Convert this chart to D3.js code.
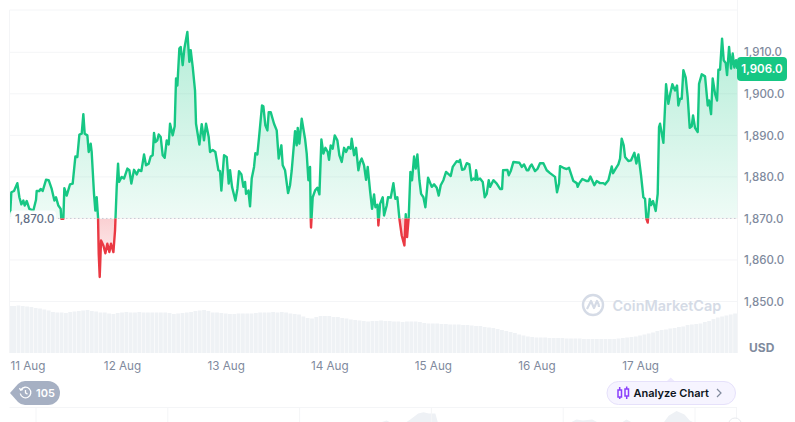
<!DOCTYPE html>
<html>
<head>
<meta charset="utf-8">
<script src="https://cdn.jsdelivr.net/npm/d3@7"></script>
<style>
    html, body { margin: 0; padding: 0; background: #fff; overflow: hidden; }
    text { font-family: Inter, 'Noto Sans', sans-serif; }
</style>
</head>
<body>
<script>
// data: hours after 11 Aug 00:00 and the price at that time
const hours = [
    -1.95,-1.64,-1.02,-0.25,0.22,0.68,1.14,1.45,1.92,2.53,
    3.46,4.08,4.23,4.85,5.16,5.62,6.39,7.01,7.71,8.33,
    8.71,9.25,9.79,9.94,10.41,10.64,11.18,11.95,12.57,13.19,
    13.65,14.12,14.66,15.04,15.35,15.97,16.28,16.74,16.97,17.51,
    17.82,18.13,18.44,18.6,18.83,19.14,19.68,20.14,20.6,21.07,
    21.45,22.0,22.38,22.77,23.08,23.31,23.92,24.46,25.24,25.7,
    26.16,26.78,27.4,27.86,28.48,29.1,29.56,30.18,30.64,31.1,
    31.41,31.72,32.18,32.49,32.96,33.42,33.88,34.35,34.81,35.12,
    35.74,36.2,36.51,36.82,37.28,37.59,38.05,38.44,39.13,39.6,
    39.91,40.37,40.91,41.14,41.92,42.46,42.99,43.46,44.08,44.39,
    45.0,45.62,46.32,46.7,47.01,47.63,48.25,48.71,49.02,49.48,
    50.26,50.72,51.1,51.65,52.11,52.5,52.73,53.27,53.65,54.04,
    54.58,54.89,55.35,55.82,56.43,56.74,57.2,57.67,57.98,58.44,
    59.21,59.83,60.29,60.91,61.22,61.76,62.46,62.92,63.31,64.08,
    64.46,64.7,65.08,65.62,66.39,66.78,67.17,67.55,67.71,67.78,
    68.17,68.71,69.25,69.72,70.18,70.64,71.11,71.65,71.95,72.34,
    72.8,73.27,73.88,74.35,74.89,75.43,75.89,76.43,76.97,77.2,
    77.75,78.21,78.75,79.14,79.52,80.06,80.53,80.91,81.45,81.92,
    82.38,82.69,83.15,83.38,83.77,84.39,84.7,85.31,85.62,86.24,
    86.86,87.32,87.78,88.25,88.79,89.41,89.72,90.03,90.41,90.8,
    91.18,91.65,92.03,92.42,92.88,93.27,93.81,94.27,94.89,95.74,
    96.28,96.9,97.36,97.82,98.44,99.06,100.14,100.6,101.53,101.99,
    102.3,102.77,103.31,103.85,104.46,104.93,105.39,105.85,106.01,106.4,
    106.93,107.55,108.02,108.48,108.94,109.25,110.02,110.8,111.57,112.03,
    112.26,113.27,113.58,114.04,114.66,116.05,116.59,117.13,117.75,118.13,
    118.52,118.89,119.67,120.28,120.82,121.6,122.37,123.14,124.3,124.76,
    125.23,125.46,126.23,127.0,127.54,128.55,129.32,129.55,129.94,130.63,
    131.64,132.02,132.49,133.41,133.95,134.72,135.5,135.88,136.66,137.43,
    137.74,138.35,138.97,139.36,139.74,140.21,140.52,141.29,141.91,142.68,
    143.14,143.61,144.22,144.76,145.15,145.46,145.77,146.23,146.54,147.0,
    147.62,148.08,148.39,148.62,149.4,150.02,150.55,151.02,151.48,152.1,
    152.56,152.87,153.26,153.64,154.03,154.57,155.03,155.5,155.96,156.27,
    156.73,157.35,157.66,158.28,159.05,159.67,159.98,160.44,160.82,161.37,
    161.83,162.14,162.52,162.99,163.37,163.84,164.15,164.61,165.07,165.46,
    165.84,166.23,166.54
]
const prices = [
    1870.3,1876.3,1876.6,1878.5,1875.1,1873.4,1874.3,1873.1,1874.2,1872.3,
    1871.9,1874.5,1876.6,1876.6,1877.1,1876.6,1879.3,1879.2,1877.1,1874.3,
    1875.1,1873.1,1872.3,1869.9,1869.9,1877.3,1875.5,1878.2,1878.4,1884.9,
    1884.8,1890.2,1890.4,1895.1,1890.4,1890.0,1886.0,1888.0,1886.0,1875.9,
    1871.9,1875.1,1870.3,1861.5,1855.9,1864.7,1863.5,1861.6,1863.9,1861.9,
    1863.9,1861.9,1867.1,1877.6,1883.2,1878.8,1880.0,1879.6,1882.0,1881.6,
    1878.4,1881.7,1880.6,1881.7,1881.4,1885.4,1882.8,1883.2,1884.9,1885.2,
    1890.6,1888.4,1888.8,1890.2,1889.6,1885.2,1884.6,1888.8,1887.8,1892.8,
    1890.0,1892.2,1903.7,1902.0,1910.9,1911.3,1906.9,1910.9,1914.9,1907.7,
    1910.5,1906.5,1900.8,1892.8,1887.8,1892.7,1888.8,1892.8,1889.6,1886.0,
    1886.5,1886.0,1881.6,1881.4,1876.7,1885.2,1884.8,1878.4,1881.6,1877.6,
    1874.3,1877.1,1881.4,1880.6,1877.6,1878.8,1875.9,1876.7,1872.9,1879.6,
    1882.4,1885.7,1885.4,1890.4,1897.2,1897.0,1892.4,1891.2,1895.6,1895.6,
    1892.8,1891.2,1884.4,1887.6,1882.8,1881.6,1876.1,1878.0,1881.6,1891.0,
    1887.6,1891.8,1888.0,1894.0,1889.2,1885.6,1879.2,1882.4,1870.0,1867.8,
    1875.1,1876.7,1877.4,1875.8,1889.0,1885.6,1887.0,1886.0,1884.1,1887.6,
    1886.8,1890.0,1888.8,1885.2,1883.6,1887.0,1886.0,1887.2,1886.8,1889.2,
    1885.2,1887.0,1881.6,1883.6,1884.4,1882.8,1879.3,1882.4,1876.7,1872.3,
    1875.8,1872.7,1873.3,1868.3,1873.5,1875.1,1870.7,1873.1,1875.1,1875.0,
    1878.5,1874.7,1875.1,1869.9,1865.9,1863.5,1871.0,1865.5,1870.3,1881.2,
    1879.2,1884.9,1882.0,1885.4,1879.2,1875.9,1875.1,1872.7,1879.8,1877.6,
    1878.2,1877.4,1875.5,1878.0,1879.2,1881.2,1880.2,1882.4,1883.8,1883.6,
    1884.1,1881.7,1881.9,1883.3,1883.0,1879.2,1879.6,1879.3,1881.6,1879.3,
    1879.6,1878.8,1875.1,1875.9,1879.2,1877.6,1879.2,1878.4,1877.1,1877.1,
    1881.6,1881.7,1880.4,1881.4,1883.6,1883.4,1882.4,1883.0,1881.6,1881.6,
    1882.5,1883.0,1881.4,1882.0,1883.3,1883.3,1881.6,1880.9,1880.0,1876.3,
    1878.4,1882.6,1882.2,1881.9,1882.2,1879.0,1878.5,1877.6,1878.5,1879.5,
    1879.0,1879.0,1880.1,1878.0,1879.0,1878.5,1878.5,1878.2,1879.2,1882.5,
    1880.9,1882.0,1883.0,1884.4,1889.2,1887.6,1884.8,1883.8,1884.0,1885.8,
    1883.2,1885.4,1880.4,1875.1,1874.7,1869.9,1869.0,1874.7,1873.2,1874.2,
    1871.8,1875.9,1892.0,1892.8,1888.2,1902.3,1897.6,1900.2,1902.3,1900.8,
    1902.0,1897.2,1898.8,1898.8,1905.7,1903.9,1899.2,1891.8,1892.2,1894.8,
    1891.8,1890.8,1902.4,1904.7,1904.2,1897.2,1898.4,1895.1,1903.7,1900.0,
    1898.4,1905.8,1905.8,1913.3,1908.1,1907.4,1904.5,1911.3,1906.1,1909.7,
    1906.3,1908.1,1906.0
]
// hourly volume, first bar is at hour -2, unit is arbitrary
const volumes = [
    94,94,95,94,93,92,90,89,87,85,82,81,81,80,82,83,84,85,86,84,83,81,81,79,78,
    80,81,82,81,81,82,81,81,81,81,81,81,80,78,79,80,81,82,84,85,86,84,81,81,80,
    79,78,78,79,79,79,79,80,81,81,81,82,81,82,81,79,78,77,73,70,69,72,74,74,74,
    72,72,70,69,67,66,65,64,63,64,64,65,64,64,63,63,62,63,63,63,62,60,59,59,59,
    58,58,57,57,57,56,56,55,54,54,52,51,50,48,46,44,42,40,37,35,33,32,31,31,31,
    30,30,30,30,29,29,29,29,28,28,28,28,28,28,28,28,29,30,31,32,33,35,37,39,41,
    44,46,47,49,50,52,53,56,57,58,59,62,64,68,71,73,75,77,79
]
const price_ticks = [1850,1860,1870,1880,1890,1900,1910]
const date_labels = ['11 Aug','12 Aug','13 Aug','14 Aug','15 Aug','16 Aug','17 Aug']
const base_price = 1870
const last_price = 1906
const unit_label = 'USD'
const badge_count = '105'
// overview strip under the chart, only its top edge is inside the window
const overview_ticks = [0,1,2,3,4,5]
const overview_pos = [0,2.6,2.66,2.7,2.8,2.84,2.9,2.94,2.98,3.03,3.05,4.05,4.1,4.15,4.22,4.27,4.44,4.48,4.53,4.76,4.8,4.86,4.92,4.96,5]
const overview_val = [0,0,2,0,0,3,8,9,8,8,0,0,3,2,3,0,0,3,0,0,6,10,7,2,0]

const start_ms = Date.UTC(2023,7,11)
const to_date = (h) => new Date(start_ms + h*3600000)

// scales
const plot = {left: 10, right: 737, top: 10, bottom: 353}
const x = d3.scaleUtc().domain([to_date(-1.95), to_date(166.45)]).range([plot.left, plot.right])
const y = d3.scaleLinear().domain([1850,1910]).range([301.5,52.3])
const y_vol = d3.scaleLinear().domain([0,100]).range([plot.bottom,303])
const x_over = d3.scaleLinear().domain([0,5]).range([36,695])
const y_over = d3.scaleLinear().domain([0,10]).range([423,411])
const points = hours.map((h,i) => ({t: to_date(h), p: prices[i]}))
const green = '#16c784'
const red = '#ea3943'
const grid_color = '#f4f5f7'

const svg = d3.select('body').append('svg')
    .attr('width', 795)
    .attr('height', 422)
    .style('display', 'block')
const defs = svg.append('defs')

function add_gradient(id, color, stops) {
    const g = defs.append('linearGradient')
        .attr('id', id)
        .attr('gradientUnits', 'userSpaceOnUse')
        .attr('x1', 0).attr('x2', 0)
        .attr('y1', stops[0]).attr('y2', stops[1])
    g.append('stop').attr('offset', 0).attr('stop-color', color).attr('stop-opacity', stops[2])
    g.append('stop').attr('offset', 1).attr('stop-color', color).attr('stop-opacity', stops[3])
}
add_gradient('grad_up', green, [y(1915), y(base_price), 0.32, 0.07])
add_gradient('grad_down', red, [y(base_price), y(1856), 0.24, 0.03])

defs.append('clipPath').attr('id', 'clip_up').append('rect')
    .attr('x', plot.left).attr('width', plot.right-plot.left+1)
    .attr('y', 0).attr('height', y(base_price))
defs.append('clipPath').attr('id', 'clip_down').append('rect')
    .attr('x', plot.left).attr('width', plot.right-plot.left+1)
    .attr('y', y(base_price)).attr('height', 200)

// grid and frame
svg.selectAll('.grid').data(price_ticks.filter(d => d != base_price)).enter().append('line')
    .attr('x1', plot.left).attr('x2', plot.right)
    .attr('y1', d => y(d)).attr('y2', d => y(d))
    .attr('stroke', grid_color)
const frame = [
    [plot.left-0.5, plot.top, plot.right, plot.top],
    [plot.left-0.5, plot.top, plot.left-0.5, plot.bottom],
    [plot.right+0.5, 0, plot.right+0.5, plot.bottom],
    [plot.left-0.5, 407.5, plot.right, 407.5],
    [plot.right-0.5, 407.5, plot.right-0.5, 422],
]
svg.selectAll('.frame').data(frame).enter().append('line')
    .attr('x1', d => d[0]).attr('y1', d => d[1])
    .attr('x2', d => d[2]).attr('y2', d => d[3])
    .attr('stroke', grid_color)

// volume
svg.selectAll('.vol').data(volumes).enter().append('rect')
    .attr('x', (_,i) => Math.max(plot.left, x(to_date(i-2)) - 1.9))
    .attr('width', 3.8)
    .attr('y', d => y_vol(d))
    .attr('height', d => y_vol(0) - y_vol(d))
    .attr('fill', '#eff2f5')

// overview strip
svg.append('path')
    .datum(overview_pos.map((p,i) => [p, overview_val[i]]))
    .attr('d', d3.area().x(d => x_over(d[0])).y0(y_over(0)).y1(d => y_over(d[1])))
    .attr('fill', '#eef1f5')
svg.selectAll('.over').data(overview_ticks).enter().append('line')
    .attr('x1', d => x_over(d)).attr('x2', d => x_over(d))
    .attr('y1', 407.5).attr('y2', 422)
    .attr('stroke', grid_color)
svg.append('circle')
    .attr('cx', 735).attr('cy', 424.5).attr('r', 6.5)
    .attr('fill', '#fff').attr('stroke', '#e8eaee')

// area and line, split on the base price
const area = d3.area().x(d => x(d.t)).y0(y(base_price)).y1(d => y(d.p))
const line = d3.line().x(d => x(d.t)).y(d => y(d.p))
svg.append('path').datum(points).attr('d', area).attr('fill', 'url(#grad_up)').attr('clip-path', 'url(#clip_up)')
svg.append('path').datum(points).attr('d', area).attr('fill', 'url(#grad_down)').attr('clip-path', 'url(#clip_down)')
svg.append('line')
    .attr('x1', plot.left).attr('x2', plot.right)
    .attr('y1', y(base_price)).attr('y2', y(base_price))
    .attr('stroke', '#c3c9d4')
    .attr('stroke-dasharray', '1.5 2.5')
svg.append('path').datum(points).attr('d', line).attr('fill', 'none')
    .attr('stroke', green).attr('stroke-width', 2.4).attr('stroke-linejoin', 'round')
    .attr('clip-path', 'url(#clip_up)')
svg.append('path').datum(points).attr('d', line).attr('fill', 'none')
    .attr('stroke', red).attr('stroke-width', 2.4).attr('stroke-linejoin', 'round')
    .attr('clip-path', 'url(#clip_down)')

// axes
const y_axis = svg.append('g')
    .attr('transform', `translate(${plot.right+7},0)`)
    .call(d3.axisRight(y).tickValues(price_ticks).tickFormat(d3.format(',.1f')).tickSize(0).tickPadding(0))
y_axis.select('.domain').remove()
y_axis.selectAll('text')
    .style('font-size', '11.5px').style('font-weight', 500).style('font-family', 'Inter').attr('fill', '#808a9d')

const x_axis = svg.append('g')
    .attr('transform', 'translate(0,362)')
    .call(d3.axisBottom(x)
        .tickValues(date_labels.map((_,i) => to_date(i*24)))
        .tickFormat((_,i) => date_labels[i])
        .tickSize(0).tickPadding(0))
x_axis.select('.domain').remove()
x_axis.selectAll('text')
    .style('font-size', '11.7px').style('font-family', 'Inter').attr('fill', '#808a9d')
// first label would stick out on the left, so it starts at the plot edge
x_axis.selectAll('text').filter((_,i) => i == 0)
    .attr('text-anchor', 'start')
    .attr('x', plot.left - x(to_date(0)))

svg.append('text').text(unit_label)
    .attr('x', 749).attr('y', 352)
    .attr('font-size', 12).attr('font-weight', 700).attr('fill', '#808a9d')

// base price label
svg.append('rect')
    .attr('x', plot.left).attr('y', y(base_price)-8)
    .attr('width', 46).attr('height', 16).attr('rx', 4)
    .attr('fill', '#fff').attr('fill-opacity', 0.9)
svg.append('text').text(d3.format(',.1f')(base_price))
    .attr('x', 15).attr('y', y(base_price)+4.5)
    .attr('font-size', 11.5).attr('font-weight', 500).attr('fill', '#616e85')

// last price tag
svg.append('rect')
    .attr('x', 737).attr('y', y(last_price)-12)
    .attr('width', 50).attr('height', 24).attr('rx', 4)
    .attr('fill', green)
svg.append('text').text(d3.format(',.1f')(last_price))
    .attr('x', 762).attr('y', y(last_price)+4.5)
    .attr('text-anchor', 'middle')
    .attr('font-size', 11.5).attr('font-weight', 600).attr('fill', '#fff')

// watermark
const logo = svg.append('g').attr('transform', 'translate(593,305)')
logo.append('circle').attr('r', 10).attr('fill', 'none').attr('stroke', '#d5dbe6').attr('stroke-width', 2.4)
logo.append('path').attr('d', 'M-6,4 L-2,-4 L1,3 L4,-4 Q6,-1 6,2')
    .attr('fill', 'none').attr('stroke', '#d5dbe6').attr('stroke-width', 2.2).attr('stroke-linejoin', 'round')
svg.append('text').text('CoinMarketCap')
    .attr('x', 612.5).attr('y', 311)
    .attr('font-size', 14.4).attr('font-weight', 600).attr('fill', '#d5dbe6')

// history badge
svg.append('path')
    .attr('d', 'M10,393 L18,384 Q21,381 25,381 L48,381 A12,12 0 0 1 48,405 L25,405 Q21,405 18,402 Z')
    .attr('fill', '#a6b0c3')
const clock = svg.append('g').attr('transform', 'translate(25.5,392.5)')
    .attr('fill', 'none').attr('stroke', '#fff').attr('stroke-width', 1.3)
clock.append('path').attr('d', 'M-4.6,-2.6 A5.3,5.3 0 1 1 -5.2,1')
clock.append('path').attr('d', 'M-6,-4.4 L-4.8,-2.2 L-2.6,-3')
clock.append('path').attr('d', 'M0,-2.6 L0,0.4 L2,1.6')
svg.append('text').text(badge_count)
    .attr('x', 36).attr('y', 397)
    .attr('font-size', 11).attr('font-weight', 600).attr('fill', '#fff')

// analyze button
svg.append('path').attr('d', 'M667,381 L670.7,377.5 L674.5,381 Z').attr('fill', '#eeeafd')
svg.append('rect')
    .attr('x', 607).attr('y', 381.5)
    .attr('width', 128.5).attr('height', 23).attr('rx', 11.5)
    .attr('fill', '#f6f4ff').attr('stroke', '#e6e1fb')
const candles = svg.append('g').attr('fill', 'none').attr('stroke', '#8a3ffc').attr('stroke-width', 1.5)
candles.append('rect').attr('x', 618).attr('y', 390).attr('width', 3.5).attr('height', 7)
candles.append('path').attr('d', 'M619.7,387 V390 M619.7,397 V399')
candles.append('rect').attr('x', 625).attr('y', 389).attr('width', 3.5).attr('height', 7)
candles.append('path').attr('d', 'M626.7,386.5 V389 M626.7,396 V399')
svg.append('text').text('Analyze Chart')
    .attr('x', 633.5).attr('y', 397)
    .attr('font-size', 11).attr('font-weight', 600).attr('fill', '#0d1421')
svg.append('path').attr('d', 'M717,389 L721,393 L717,397')
    .attr('fill', 'none').attr('stroke', '#808a9d').attr('stroke-width', 1.2)
</script>
</body>
</html>
